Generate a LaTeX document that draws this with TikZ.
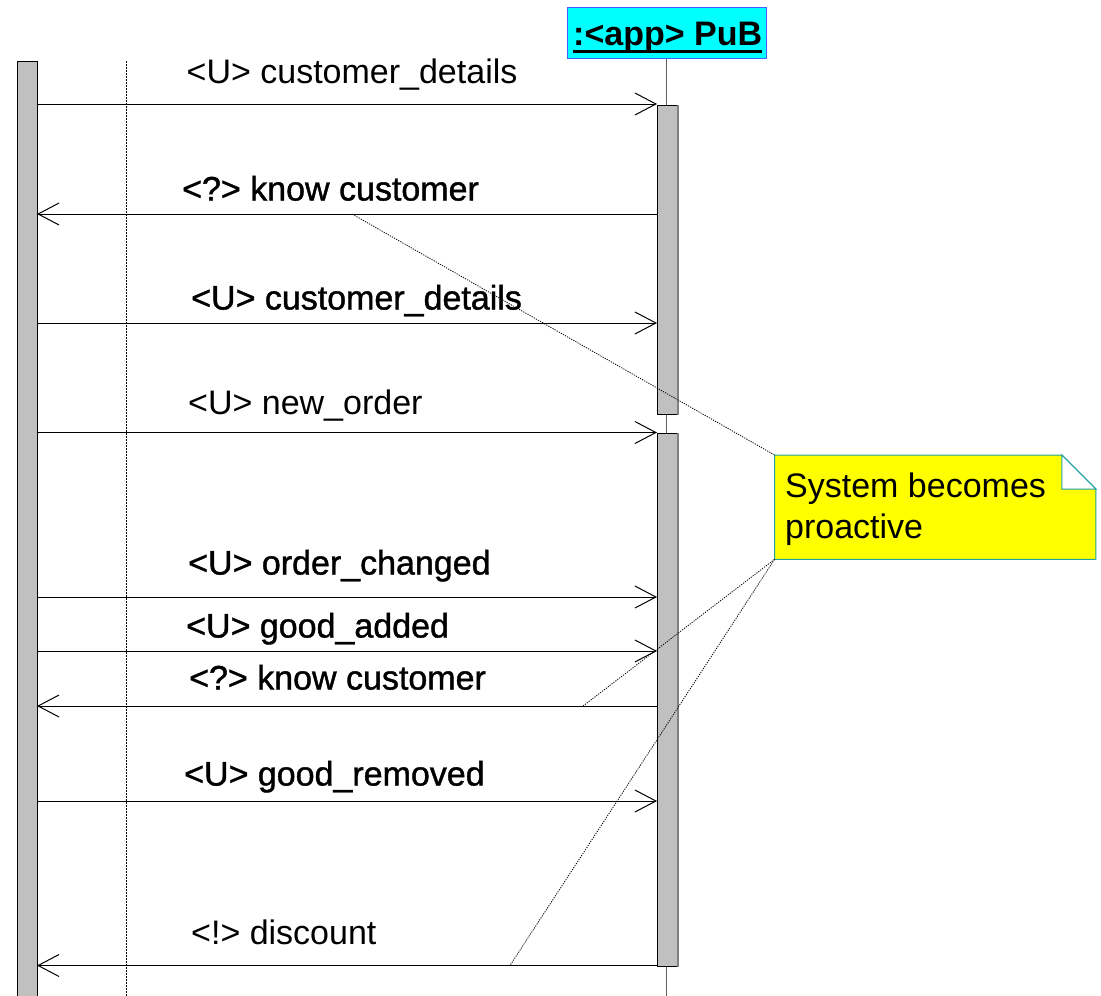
\documentclass[tikz,border=0pt]{standalone}
\usepackage{fontspec}
\setmainfont{Liberation Sans}
\newfontfamily\heavyfont[FakeBold=1.2]{Liberation Sans}
\usetikzlibrary{arrows.meta,calc}
\definecolor{barfill}{HTML}{C0C0C0}
\definecolor{barshade}{HTML}{808080}
\definecolor{headfill}{HTML}{00FFFF}
\definecolor{headline}{HTML}{4060FF}
\definecolor{notefill}{HTML}{FFFF00}
\definecolor{noteline}{HTML}{20A0A0}
\definecolor{lifegrey}{HTML}{606060}
\begin{document}
\begin{tikzpicture}[x=1pt,y=-1pt,
  font=\fontsize{34}{41}\selectfont,
  bar/.style={draw=black,fill=barfill,line width=1pt,minimum width=20pt,inner sep=0pt,anchor=north west,rectangle},
  msg/.style={draw=black,line width=1pt,-{Straight Barb[length=21pt,width=22pt,line width=1pt]}},
  lbl/.style={anchor=base west,inner sep=0pt},
  heavylbl/.style={lbl,font=\fontsize{34}{41}\heavyfont},
  anchorline/.style={draw=black,line width=0.8pt,dash pattern=on 1.2pt off 1.2pt},
  life/.style={draw=lifegrey,line width=1pt}]
\useasboundingbox (0,0) rectangle (1101,996);

% object header
\node[draw=headline,fill=headfill,line width=1pt,minimum width=199pt,minimum height=51pt,inner sep=0pt,anchor=north west] (H) at (567,7) {};
\node[lbl,font=\fontsize{34}{41}\selectfont\bfseries] (ht) at (573,45.5) {:<app> PuB};
\draw[line width=3pt] ($(ht.south west)+(0,-0.8)$) -- ($(ht.south east)+(0,-0.8)$);

% lifelines
\coordinate (lifeEnd) at (666.5,1000);
\draw[life] (H.south -| lifeEnd) -- (lifeEnd);
\coordinate (dotTop) at (126.5,61);
\coordinate (dotEnd) at (126.5,1000);
\draw[anchorline,line width=1pt,dash pattern=on 1.5pt off 1.5pt] (dotTop) -- (dotEnd);

% activation bars
\node[bar,minimum height=940pt] (L) at (17,61) {};
\node[bar,minimum height=309pt] (A) at (657,105) {};
\node[bar,minimum height=533pt] (B) at (657,432.5) {};
\foreach \b in {A,B} \draw[barshade,line width=1.5pt] (\b.north east) -- (\b.south east);

% message end points
\foreach \n/\y in {1/104,2/214,3/323,4/432.5,5/597,6/651,7/706,8/801,9/965.5}{
  \coordinate (l\n) at (37,\y);
  \coordinate (r\n) at (657,\y);
}

% messages
\draw[msg] (l1) -- (r1);
\draw[msg] (r2) -- (l2);
\draw[msg] (l3) -- (r3);
\draw[msg] (l4) -- (B.north west);
\draw[msg] (l5) -- (r5);
\draw[msg] (l6) -- (r6);
\draw[msg] (r7) -- (l7);
\draw[msg] (l8) -- (r8);
\draw[msg] (r9) -- (l9);

% message labels
\node[lbl] (t1) at (186.5,83.5) {<U> customer\_details};
\node[heavylbl] (t2) at (182,200.5) {<?> know customer};
\node[heavylbl] (t3) at (191,309.5) {<U> customer\_details};
\node[lbl] (t4) at (188,414.5) {<U> new\_order};
\node[heavylbl] (t5) at (188,574.5) {<U> order\_changed};
\node[heavylbl] (t6) at (186,637.5) {<U> good\_added};
\node[heavylbl] (t7) at (189,689.5) {<?> know customer};
\node[heavylbl] (t8) at (184,785.5) {<U> good\_removed};
\node[lbl] (t9) at (191,944.5) {<!> discount};

% note with folded corner
\node[minimum width=321pt,minimum height=104pt,inner sep=0pt,anchor=north west] (N) at (774.5,455) {};
\draw[noteline,fill=notefill,line width=1pt]
  (N.north west) -- ($(N.north east)+(-34,0)$) -- ($(N.north east)+(0,34)$)
  -- (N.south east) -- (N.south west) -- cycle;
\draw[noteline,fill=white,line width=1pt]
  ($(N.north east)+(-34,0)$) -- ($(N.north east)+(0,34)$) -- ($(N.north east)+(-34,34)$) -- cycle;
\node[lbl] (n1) at (785,497) {System becomes};
\node[lbl] (n2) at (785,538) {proactive};

% note anchors
\coordinate (k2) at (352,214);
\coordinate (k7) at (583,706);
\coordinate (k9) at (510,965.5);
\draw[anchorline] (N.north west) -- (k2);
\draw[anchorline] (N.south west) -- (k7);
\draw[anchorline] (N.south west) -- (k9);
\end{tikzpicture}
\end{document}
